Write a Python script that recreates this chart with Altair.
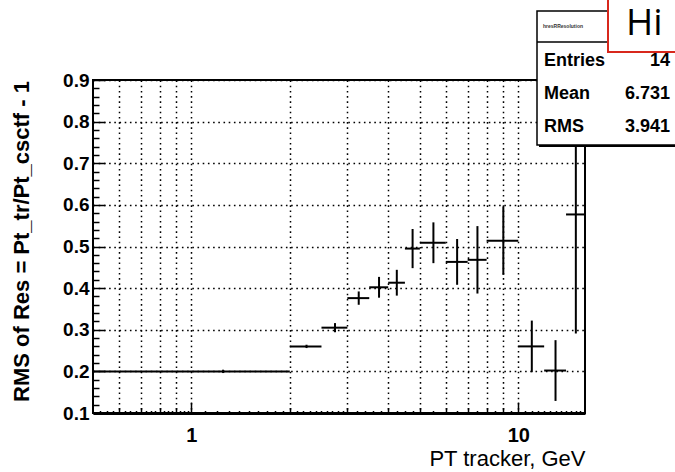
import altair as alt
import pandas as pd

# ---- data ----
bin_lo = [0.5, 2.0, 2.5, 3.0, 3.5, 4.0, 4.5, 5.0, 6.0, 7.0, 8.0, 10.0, 12.0, 14.0]
bin_hi = [2.0, 2.5, 3.0, 3.5, 4.0, 4.5, 5.0, 6.0, 7.0, 8.0, 10.0, 12.0, 14.0, 16.0]
rms_val = [0.200, 0.260, 0.305, 0.376, 0.402, 0.413, 0.495, 0.509, 0.463, 0.468, 0.514, 0.260, 0.202, 0.577]
rms_err = [0.004, 0.004, 0.011, 0.016, 0.025, 0.031, 0.047, 0.049, 0.055, 0.081, 0.082, 0.062, 0.073, 0.286]

stat_names = ["Entries", "Mean", "RMS"]
stat_values = ["14", "6.731", "3.941"]
stat_title = "hresRResolution"

x_grid = [0.6, 0.7, 0.8, 0.9, 1, 2, 3, 4, 5, 6, 7, 8, 9, 10]
x_major = [1, 10]
x_medium = [0.6, 0.7, 0.8, 0.9, 2, 3, 4, 5, 6, 7, 8, 9]
y_major = [0.1, 0.2, 0.3, 0.4, 0.5, 0.6, 0.7, 0.8, 0.9]

# minor tick positions (axis styling)
x_minor = ([round(0.5 + 0.025 * i, 3) for i in range(1, 20)] +
           [round(1 + 0.1 * i, 2) for i in range(1, 20)] +
           [round(3 + 0.2 * i, 2) for i in range(1, 5)] +
           [round(4 + 0.25 * i, 2) for i in range(1, 4)] +
           [round(5 + 0.5 * i, 2) for i in range(1, 22)])
x_minor = [v for v in x_minor if v not in x_grid and v < 16]
y_minor = [round(0.1 + 0.02 * i, 2) for i in range(1, 40)]
y_minor = [v for v in y_minor if abs(v * 10 - round(v * 10)) > 1e-6]

df = pd.DataFrame({"lo": bin_lo, "hi": bin_hi, "val": rms_val, "err": rms_err})
df["mid"] = (df["lo"] + df["hi"]) / 2
df["ylo"] = df["val"] - df["err"]
df["yhi"] = df["val"] + df["err"]

W, H = 492, 333
FONT = "Liberation Sans"

xs = alt.Scale(type="log", domain=[0.5, 16], nice=False)
ys = alt.Scale(domain=[0.1, 0.9], nice=False, zero=False)

main_x_axis = alt.Axis(
    orient="bottom", values=x_grid, grid=True, gridDash=[1.6, 3.6], gridColor="black",
    gridWidth=1.5, ticks=False, tickSize=0, domain=True, domainWidth=3, domainColor="black",
    labelExpr="datum.value == 1 ? '1' : (datum.value == 10 ? '10' : '')",
    labelFont=FONT, labelFontWeight="bold", labelFontSize=20, labelColor="black",
    labelPadding=12, labelFlush=False, labelOverlap=False,
    title="PT tracker, GeV", titleFont=FONT, titleFontSize=22, titleFontWeight="normal",
    titleColor="black", titleX=W, titleY=52, titleAlign="right", titleAnchor="end",
    titleBaseline="alphabetic")

main_y_axis = alt.Axis(
    orient="left", values=y_major, grid=True, gridDash=[1.6, 3.6], gridColor="black",
    gridWidth=1.5, ticks=False, tickSize=0, domain=False, format=".1f",
    labelFont=FONT, labelFontWeight="bold", labelFontSize=19, labelColor="black",
    labelPadding=4, labelFlush=False, labelOverlap=False, labelBaseline="middle",
    title="RMS of Res = Pt_tr/Pt_csctf - 1", titleFont=FONT, titleFontSize=22,
    titleFontWeight="bold", titleColor="black", titleAngle=270, titleX=-72, titleY=161,
    titleAlign="center", titleBaseline="middle")


def tick_axis_x(vals, size):
    return alt.Axis(orient="top", offset=-H, values=vals, ticks=True, tickSize=size,
                    tickWidth=1.5, tickColor="black", labels=False, domain=False,
                    grid=False, title=None)


def tick_axis_y(vals, size):
    return alt.Axis(orient="right", offset=-W, values=vals, ticks=True, tickSize=size,
                    tickWidth=1.5, tickColor="black", labels=False, domain=False,
                    grid=False, title=None)


base = alt.Chart(df)

hbar = base.mark_rule(color="black", strokeWidth=2).encode(
    x=alt.X("lo:Q", scale=xs, axis=main_x_axis),
    x2="hi:Q",
    y=alt.Y("val:Q", scale=ys, axis=main_y_axis),
)

vbar = base.mark_rule(color="black", strokeWidth=2).encode(
    x=alt.X("mid:Q", scale=xs, axis=tick_axis_x(x_major, 11)),
    y=alt.Y("ylo:Q", scale=ys, axis=tick_axis_y(y_major, 12)),
    y2="yhi:Q",
)

ghost1 = base.mark_point(opacity=0).encode(
    x=alt.X("mid:Q", scale=xs, axis=tick_axis_x(x_medium, 5.5)),
    y=alt.Y("val:Q", scale=ys, axis=tick_axis_y(y_minor, 6)),
)

ghost2 = base.mark_point(opacity=0).encode(
    x=alt.X("lo:Q", scale=xs, axis=tick_axis_x(x_minor, 2.5)),
    y=alt.Y("val:Q", scale=ys, axis=None),
)

one = alt.Chart(pd.DataFrame({"a": [0]}))

frame = one.mark_rect(filled=False, stroke="black", strokeWidth=2).encode(
    x=alt.value(0), x2=alt.value(W), y=alt.value(0), y2=alt.value(H))

# stats box
shadow = one.mark_rect(color="black").encode(
    x=alt.value(446), x2=alt.value(604), y=alt.value(-67), y2=alt.value(67))
box = one.mark_rect(fill="white", stroke="black", strokeWidth=1.5).encode(
    x=alt.value(444), x2=alt.value(602), y=alt.value(-69), y2=alt.value(65))
sep = one.mark_rule(color="black", strokeWidth=1.5).encode(
    x=alt.value(444), x2=alt.value(602), y=alt.value(-38))
ttl = one.mark_text(text=stat_title, font=FONT, fontSize=5, fontWeight="bold",
                    align="left", baseline="middle", color="#333").encode(
    x=alt.value(450), y=alt.value(-54))

stat_layers = []
for i, (nm, vv) in enumerate(zip(stat_names, stat_values)):
    yy = -19 + 33 * i
    stat_layers.append(one.mark_text(text=nm, font=FONT, fontSize=18, fontWeight="bold",
                                     align="left", baseline="middle", color="black").encode(
        x=alt.value(451), y=alt.value(yy)))
    stat_layers.append(one.mark_text(text=vv, font=FONT, fontSize=18, fontWeight="bold",
                                     align="right", baseline="middle", color="black").encode(
        x=alt.value(577), y=alt.value(yy)))

# slide title box (partly visible)
red_box = one.mark_rect(fill="white", stroke="#d8281c", strokeWidth=2).encode(
    x=alt.value(515), x2=alt.value(700), y=alt.value(-100), y2=alt.value(-28))
hi_text = one.mark_text(text="Hi", font="Open Sans", fontSize=37, fontWeight="normal",
                        align="left", baseline="alphabetic", color="black").encode(
    x=alt.value(533), y=alt.value(-45))

chart = alt.layer(
    hbar, vbar, ghost1, ghost2, frame, shadow, box, sep, ttl, *stat_layers, red_box, hi_text
).resolve_axis(x="independent", y="independent").properties(
    width=W, height=H,
    autosize=alt.AutoSizeParams(type="none"),
    padding={"left": 93, "top": 80, "right": 90, "bottom": 59},
    background="white",
).configure_view(stroke=None)

chart.save("out.html", embed_options={"renderer": "svg", "actions": False})
